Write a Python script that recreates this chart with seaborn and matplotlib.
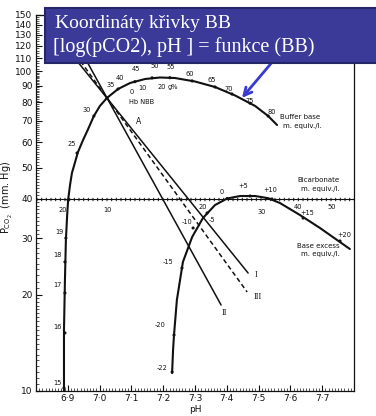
import numpy as np
import pandas as pd
import seaborn as sns
import matplotlib.pyplot as plt
from matplotlib.patches import Rectangle
from matplotlib.ticker import FixedLocator, NullFormatter

sns.set_style("ticks")
plt.rcParams["font.family"] = ["DejaVu Sans"]

# ---- Buffer base curve (pH, pCO2 in mm Hg) ----
bb_ph = [6.888, 6.888, 6.891, 6.894, 6.898, 6.901, 6.907, 6.913, 6.923, 6.932,
         6.948, 6.964, 6.982, 7.001, 7.023, 7.058, 7.096, 7.143, 7.190, 7.237,
         7.300, 7.363, 7.426, 7.489, 7.530, 7.558]
bb_pco2 = [10.0, 15.51, 22.24, 29.67, 35.52, 39.57, 44.09, 48.07, 52.03, 55.92,
           60.96, 65.99, 72.48, 77.91, 82.52, 88.02, 91.93, 94.60, 95.63, 95.28,
           92.92, 89.30, 84.02, 77.91, 72.48, 67.92]

# scale points along the buffer base curve (m. equiv./l.)
bb_values = ["15", "16", "17", "18", "19", "20", "25", "30", "35", "40", "45",
             "50", "55", "60", "65", "70", "75", "80"]
bb_mark_ph = [6.888, 6.891, 6.891, 6.891, 6.894, 6.901, 6.929, 6.982, 7.023, 7.058,
              7.111, 7.165, 7.221, 7.291, 7.363, 7.416, 7.473, 7.530]
bb_mark_pco2 = [10.22, 15.19, 20.25, 25.33, 30.10, 39.57, 55.51, 72.48, 82.52, 88.02,
                92.80, 95.40, 95.50, 93.30, 89.30, 84.93, 79.50, 72.48]
bb_label_ph = [6.869, 6.866, 6.866, 6.866, 6.875, 6.885, 6.913, 6.960, 7.036, 7.064,
               7.114, 7.174, 7.225, 7.284, 7.353, 7.407, 7.473, 7.542]
bb_label_pco2 = [10.59, 15.86, 21.46, 26.64, 31.44, 36.83, 59.25, 75.68, 90.60, 95.28,
                 101.7, 103.9, 103.1, 98.08, 93.94, 88.02, 80.75, 74.59]

# haemoglobin scale on the buffer base curve
hb_labels = ["0", "10", "20", "g%"]
hb_ph = [7.102, 7.136, 7.196, 7.231]
hb_pco2 = [86.16, 88.65, 89.30, 89.30]

# ---- Base excess curve ----
be_ph = [7.228, 7.231, 7.234, 7.243, 7.262, 7.291, 7.325, 7.363, 7.401, 7.442,
         7.489, 7.530, 7.567, 7.630, 7.693, 7.787]
be_pco2 = [11.38, 13.44, 14.97, 19.26, 25.33, 30.31, 34.76, 38.17, 40.0, 40.73,
           40.73, 40.10, 38.73, 35.52, 32.35, 27.81]

be_values = ["-22", "-20", "-15", "-10", "-5", "0", "+5", "+10", "+15", "+20"]
be_mark_ph = [7.228, 7.234, 7.259, 7.294, 7.338, 7.401, 7.473, 7.542, 7.640, 7.756]
be_mark_pco2 = [11.47, 14.97, 24.25, 32.35, 36.04, 40.0, 40.73, 39.86, 34.76, 29.46]
be_label_ph = [7.196, 7.190, 7.215, 7.275, 7.353, 7.385, 7.451, 7.536, 7.652, 7.769]
be_label_pco2 = [11.80, 16.09, 25.33, 33.78, 34.27, 41.93, 43.77, 42.53, 36.04, 30.76]

# ---- Bicarbonate scale (pCO2 = 40 mm Hg) ----
bicarb_pco2 = 40
bicarb_labels = ["10", "20", "30", "40", "50"]
bicarb_ph = [7.026, 7.325, 7.511, 7.624, 7.731]
bicarb_label_pco2 = [36.83, 37.63, 36.30, 37.63, 37.63]

# ---- Equilibration lines I, II, III ----
line_I_ph = [6.914, 7.467]
line_I_pco2 = [112.4, 23.39]
line_II_ph = [6.949, 7.382]
line_II_pco2 = [112.4, 18.58]
line_III_ph = [6.926, 7.464]
line_III_pco2 = [112.4, 20.40]

# axis ticks
y_major = [10, 20, 30, 40, 50, 60, 70, 80, 90, 100, 110, 120, 130, 140, 150]
x_major = [6.9, 7.0, 7.1, 7.2, 7.3, 7.4, 7.5, 7.6, 7.7]
x_major_labels = ["6·9", "7·0", "7·1", "7·2", "7·3", "7·4", "7·5", "7·6", "7·7"]

W, H = 376, 416
fig = plt.figure(figsize=(W / 100, H / 100), dpi=100)
ax = fig.add_axes([36 / W, 25 / H, 318 / W, 376 / H])
ax.set_yscale("log")

ink = "#111111"

sns.lineplot(x=bb_ph, y=bb_pco2, sort=False, estimator=None, ax=ax, color=ink, lw=1.5)
sns.lineplot(x=be_ph, y=be_pco2, sort=False, estimator=None, ax=ax, color=ink, lw=1.5)
sns.lineplot(x=line_I_ph, y=line_I_pco2, sort=False, estimator=None, ax=ax, color=ink, lw=1.1)
sns.lineplot(x=line_II_ph, y=line_II_pco2, sort=False, estimator=None, ax=ax, color=ink, lw=1.1)
sns.lineplot(x=line_III_ph, y=line_III_pco2, sort=False, estimator=None, ax=ax,
             color=ink, lw=1.1, linestyle=(0, (3, 2)))

sns.scatterplot(x=bb_mark_ph, y=bb_mark_pco2, ax=ax, color=ink, s=5, edgecolor="none")
sns.scatterplot(x=be_mark_ph, y=be_mark_pco2, ax=ax, color=ink, s=5, edgecolor="none")

# bicarbonate scale line with hatched graduation
ax.axhline(bicarb_pco2, color=ink, lw=0.8)
ax.axhline(bicarb_pco2, color=ink, lw=2.4, linestyle=(0, (0.3, 1.1)))

small = dict(fontsize=4.8, color=ink, ha="center", va="center")
for t, x, y in zip(bb_values, bb_label_ph, bb_label_pco2):
    ax.text(x, y, t, **small)
for t, x, y in zip(hb_labels, hb_ph, hb_pco2):
    ax.text(x, y, t, **small)
for t, x, y in zip(be_values, be_label_ph, be_label_pco2):
    ax.text(x, y, t, **small)
for t, x, y in zip(bicarb_labels, bicarb_ph, bicarb_label_pco2):
    ax.text(x, y, t, **small)

ax.text(7.133, 80.17, "Hb NBB", **small)
ax.text(7.124, 69.41, "A", fontsize=5.5, color=ink, ha="center", va="center")
ax.text(7.567, 71.95, "Buffer base", fontsize=5, color=ink, ha="left", va="center")
ax.text(7.577, 67.44, "m. equiv./l.", fontsize=5, color=ink, ha="left", va="center")
ax.text(7.687, 45.70, "Bicarbonate", fontsize=5, color=ink, ha="center", va="center")
ax.text(7.693, 42.84, "m. equiv./l.", fontsize=5, color=ink, ha="center", va="center")
ax.text(7.687, 28.41, "Base excess", fontsize=5, color=ink, ha="center", va="center")
ax.text(7.696, 26.82, "m. equiv./l.", fontsize=5, color=ink, ha="center", va="center")

roman = dict(fontsize=6, color=ink, ha="center", va="center", family="Liberation Serif")
ax.text(7.492, 23.06, "I", **roman)
ax.text(7.498, 19.68, "III", **roman)
ax.text(7.394, 17.54, "II", **roman)

# axes
ax.set_xlim(6.8, 7.8)
ax.set_ylim(10, 150)
ax.yaxis.set_major_locator(FixedLocator(y_major))
ax.set_yticklabels([str(v) for v in y_major])
ax.yaxis.set_minor_locator(FixedLocator(
    list(np.arange(10, 20, 0.5)) + list(np.arange(20, 100, 1)) + list(np.arange(100, 150, 2))))
ax.yaxis.set_minor_formatter(NullFormatter())
ax.xaxis.set_major_locator(FixedLocator(x_major))
ax.set_xticklabels(x_major_labels)
ax.xaxis.set_minor_locator(FixedLocator(list(np.arange(6.8, 7.8, 0.01))))
ax.tick_params(which="major", direction="in", length=4, width=0.8, labelsize=6.5,
               colors=ink, pad=2.5)
ax.tick_params(which="minor", direction="in", length=2, width=0.5, colors=ink)
ax.tick_params(axis="y", right=False)
ax.tick_params(axis="x", top=False)
for s in ax.spines.values():
    s.set_color(ink)
    s.set_linewidth(0.9)

ax.set_xlabel("pH", fontsize=6.5, labelpad=1, color=ink)
ax.set_ylabel("P$_{\\mathregular{CO_2}}$  (mm. Hg)", fontsize=7, color=ink)
ax.yaxis.set_label_coords(-0.066, 0.516)

# pointer from the caption to the buffer base curve
ax.annotate("", xy=(7.442, 81.3), xytext=(7.56, 112),
            arrowprops=dict(arrowstyle="->", color="#3a3ad0", lw=2.0, mutation_scale=14))

# caption box
fig.patches.append(Rectangle((45 / W, 1 - 63 / H), (W - 44) / W, 55 / H,
                             transform=fig.transFigure, facecolor="#3b3a98",
                             edgecolor="#25256a", lw=1.5, zorder=5))
fig.text(55 / W, 1 - 28 / H, "Koordináty křivky BB", color="white", fontsize=14,
         family="Liberation Serif", va="baseline", ha="left", zorder=6)
fig.text(53 / W, 1 - 52 / H, "[log(pCO2), pH ] = funkce (BB)", color="white", fontsize=14.5,
         family="Liberation Serif", va="baseline", ha="left", zorder=6)

fig.savefig("out.png", dpi=100)
